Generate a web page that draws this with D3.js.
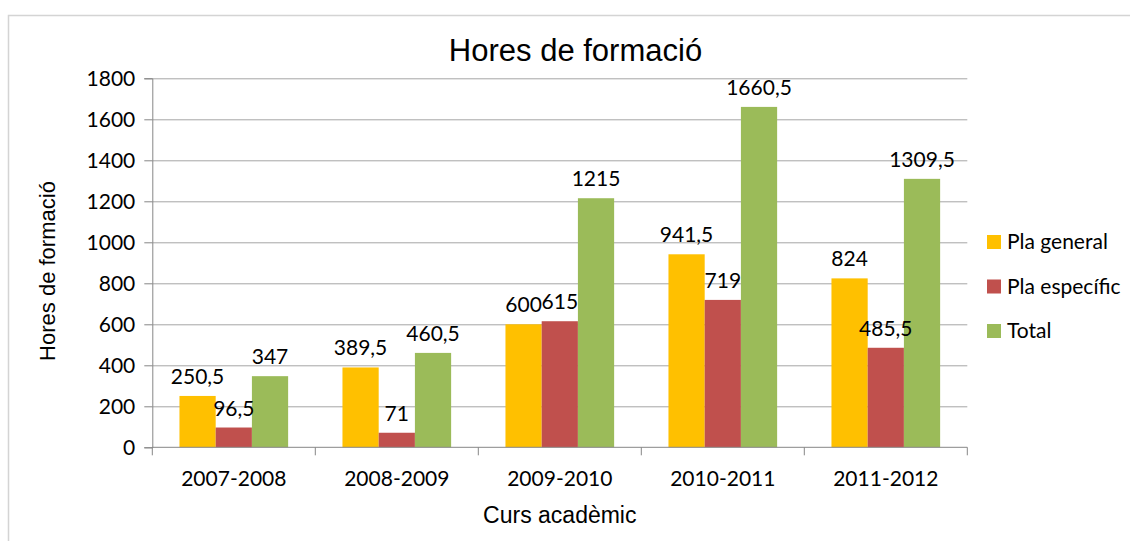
<!DOCTYPE html>
<html>
<head>
<meta charset="utf-8">
<script src="https://cdn.jsdelivr.net/npm/d3@7"></script>
<style>
  body { margin: 0; background: #fff; }
  svg { display: block; }
</style>
</head>
<body>
<div id="chart"></div>
<script>
// Dades del gràfic
const cursos = ["2007-2008", "2008-2009", "2009-2010", "2010-2011", "2011-2012"];
const series = ["Pla general", "Pla específic", "Total"];
const plaGeneral = [250.5, 389.5, 600, 941.5, 824];
const plaEspecific = [96.5, 71, 615, 719, 485.5];
const total = [347, 460.5, 1215, 1660.5, 1309.5];
const yTicks = [0, 200, 400, 600, 800, 1000, 1200, 1400, 1600, 1800];
const colors = ["#FFC000", "#C0504D", "#9BBB59"];

const W = 1130, H = 541;
const margin = { top: 78.3, left: 152.3, right: 1130 - 967.3, bottom: 541 - 447.3 };
const width = W - margin.left - margin.right,
  height = H - margin.top - margin.bottom;

const labelFont = "Lato, 'Open Sans', sans-serif";
const titleFont = "'Liberation Sans', Arial, sans-serif";

const values = [plaGeneral, plaEspecific, total];
const data = cursos.map((c, i) => ({
  curs: c,
  vals: series.map((s, j) => ({ key: s, value: values[j][i], idx: j }))
}));

const svg = d3.select("#chart").append("svg")
  .attr("width", W).attr("height", H);

// Vora exterior del gràfic
svg.append("rect")
  .attr("x", 8.5).attr("y", 15.5)
  .attr("width", W + 20).attr("height", H + 20)
  .attr("fill", "none").attr("stroke", "#d4d4d4").attr("stroke-width", 1.5);

const g = svg.append("g")
  .attr("transform", `translate(${margin.left},${margin.top})`);

const x0 = d3.scaleBand().domain(cursos).range([0, width]);
const x1 = d3.scaleBand().domain(series).range([0, x0.bandwidth()])
  .paddingInner(0).paddingOuter(0.75);
const y = d3.scaleLinear().domain([0, 1800]).range([height, 0]);

// Línies de quadrícula
g.append("g")
  .selectAll("line")
  .data(yTicks.filter((d) => d > 0))
  .enter().append("line")
  .attr("x1", 0).attr("x2", width)
  .attr("y1", (d) => Math.round(y(d)) + 0.5)
  .attr("y2", (d) => Math.round(y(d)) + 0.5)
  .attr("stroke", "#a5a5a5");

// Eix Y
const yAxis = g.append("g")
  .call(d3.axisLeft(y).tickValues(yTicks).tickFormat(d3.format("d"))
    .tickSize(8).tickPadding(9));
yAxis.select(".domain").attr("stroke", "#868686");
yAxis.selectAll(".tick line").attr("stroke", "#868686");
yAxis.selectAll(".tick text")
  .attr("font-family", labelFont).attr("font-size", 21).attr("fill", "#000");

// Barres
const groups = g.selectAll(".grp").data(data).enter().append("g")
  .attr("class", "grp")
  .attr("transform", (d) => `translate(${x0(d.curs)},0)`);

groups.selectAll("rect")
  .data((d) => d.vals)
  .enter().append("rect")
  .attr("x", (d) => x1(d.key))
  .attr("width", x1.bandwidth())
  .attr("y", (d) => y(d.value))
  .attr("height", (d) => height - y(d.value))
  .attr("fill", (d) => colors[d.idx]);

// Etiquetes de valor
const fmt = (v) => String(v).replace(".", ",");
groups.selectAll("text")
  .data((d) => d.vals)
  .enter().append("text")
  .attr("x", (d) => x1(d.key) + x1.bandwidth() / 2)
  .attr("y", (d) => y(d.value) - 12)
  .attr("text-anchor", "middle")
  .attr("font-family", labelFont).attr("font-size", 21)
  .text((d) => fmt(d.value));

// Eix X
const xAxis = g.append("g").attr("transform", `translate(0,${height})`);
xAxis.append("line")
  .attr("x1", 0).attr("x2", width)
  .attr("stroke", "#868686");
xAxis.selectAll(".tk")
  .data(cursos.map((c) => x0(c)).concat([width]))
  .enter().append("line")
  .attr("x1", (d) => d).attr("x2", (d) => d)
  .attr("y1", 0).attr("y2", 8)
  .attr("stroke", "#868686");
xAxis.selectAll("text")
  .data(cursos)
  .enter().append("text")
  .attr("x", (d) => x0(d) + x0.bandwidth() / 2)
  .attr("y", 39)
  .attr("text-anchor", "middle")
  .attr("font-family", labelFont).attr("font-size", 21)
  .text((d) => d);

// Títols
svg.append("text")
  .attr("x", 575.5).attr("y", 61)
  .attr("text-anchor", "middle")
  .attr("font-family", titleFont).attr("font-size", 31)
  .text("Hores de formació");

svg.append("text")
  .attr("transform", "translate(55,271) rotate(-90)")
  .attr("text-anchor", "middle")
  .attr("font-family", titleFont).attr("font-size", 22)
  .text("Hores de formació");

svg.append("text")
  .attr("x", margin.left + width / 2).attr("y", 523)
  .attr("text-anchor", "middle")
  .attr("font-family", titleFont).attr("font-size", 23)
  .text("Curs acadèmic");

// Llegenda
const legend = svg.append("g").attr("transform", "translate(987,242)");
const item = legend.selectAll("g").data(series).enter().append("g")
  .attr("transform", (d, i) => `translate(0,${i * 44.5})`);
item.append("rect")
  .attr("x", 0).attr("y", -7).attr("width", 14).attr("height", 14)
  .attr("fill", (d, i) => colors[i]);
item.append("text")
  .attr("x", 20).attr("y", 0).attr("dy", "0.35em")
  .attr("font-family", labelFont).attr("font-size", 21)
  .text((d) => d);
</script>
</body>
</html>
